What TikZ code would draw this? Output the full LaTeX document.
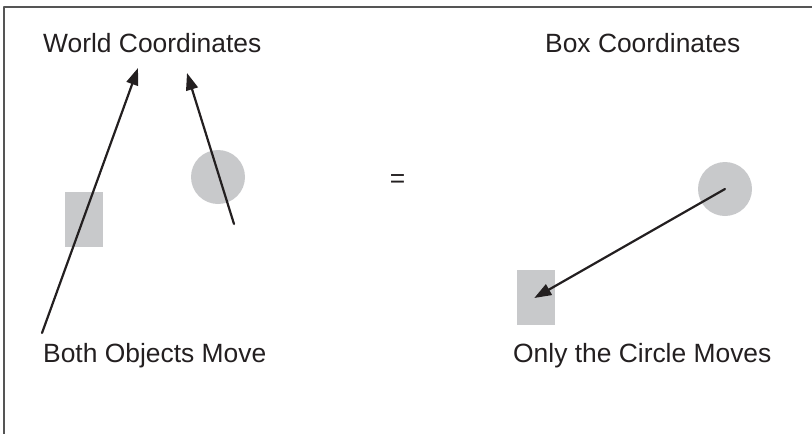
\documentclass[tikz,border=0pt]{standalone}
\usepackage{fontspec}
\setmainfont{Liberation Sans}
\usetikzlibrary{arrows.meta}
\definecolor{shapegray}{HTML}{C8C9CB}
\definecolor{framegray}{HTML}{555555}
\definecolor{inkblack}{HTML}{231F20}
\begin{document}
\begin{tikzpicture}[x=1pt, y=-1pt, line cap=round, line join=round,
    label/.style={anchor=base west, inner sep=0pt, text=inkblack,
      font=\fontsize{26.4}{30}\selectfont},
    boxshape/.style={rectangle, fill=shapegray, inner sep=0pt,
      minimum width=38pt, minimum height=55pt},
    circshape/.style={circle, fill=shapegray, inner sep=0pt,
      minimum size=54pt},
    move/.style={draw=inkblack, line width=2.2pt,
      -{Triangle[length=17pt, width=12pt]}}]
  \useasboundingbox (0,0) rectangle (812,434);
  % marco
  \draw[framegray, line width=2pt, line cap=butt] (4,434) -- (4,7) -- (812,7);
  % lado izquierdo
  \node[label] (worldT) at (43,52) {World Coordinates};
  \node[label] (bothT) at (43,362) {Both Objects Move};
  \node[boxshape] (boxA) at (84,219.5) {};
  \node[circshape] (circA) at (218,177) {};
  \coordinate (boxFrom) at (42,333);
  \coordinate (boxTo) at (138,68);
  \coordinate (circFrom) at (234,224);
  \coordinate (circTo) at (187,73);
  \draw[move] (boxFrom) -- (boxTo);
  \draw[move] (circFrom) -- (circTo);
  % igual
  \node[label, anchor=center] (eq) at (397.5,181) {=};
  % lado derecho
  \node[label] (boxT) at (545,52) {Box Coordinates};
  \node[label] (onlyT) at (513,362) {Only the Circle Moves};
  \node[boxshape] (boxB) at (536,297) {};
  \node[circshape] (circB) at (725,189) {};
  \draw[move, shorten >=-2pt] (circB.center) -- (boxB.center);
\end{tikzpicture}
\end{document}
